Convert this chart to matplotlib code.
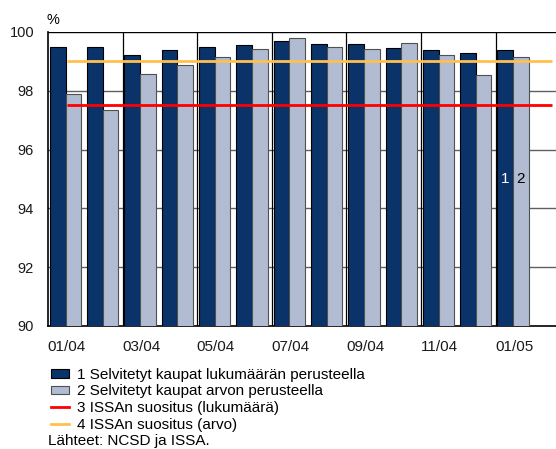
import numpy as np
import matplotlib.pyplot as plt
from matplotlib.patches import Patch
from matplotlib.lines import Line2D

plt.rcParams['font.family'] = ['Liberation Sans', 'DejaVu Sans']

kuukaudet = ["01/04", "02/04", "03/04", "04/04", "05/04", "06/04", "07/04",
             "08/04", "09/04", "10/04", "11/04", "12/04", "01/05"]
lukumaara = [99.47, 99.47, 99.21, 99.40, 99.50, 99.57, 99.68,
             99.59, 99.59, 99.45, 99.37, 99.29, 99.37]
arvo = [97.89, 97.36, 98.58, 98.86, 99.13, 99.41, 99.79,
        99.48, 99.43, 99.63, 99.22, 98.52, 99.13]
issa_lukumaara = 97.5
issa_arvo = 99.0

tumma = '#0a3369'
vaalea = '#b1bcd3'

fig = plt.figure(figsize=(5.56, 4.49), dpi=100)
ax = fig.add_axes([0.0863, 0.274, 0.9137, 0.655])

x = np.arange(len(kuukaudet))
w = 0.42
d = 0.03  # pylväspari hieman vasemmalle
ax.bar(x - w / 2 - d, lukumaara, w, color=tumma, edgecolor='black', linewidth=0.8, zorder=3)
ax.bar(x + w / 2 - d, arvo, w, color=vaalea, edgecolor='#505050', linewidth=0.8, zorder=3)

xl = np.array([0, len(kuukaudet)])
ax.plot(xl, [issa_lukumaara] * 2, color='#ff0000', lw=2, zorder=4, solid_capstyle='butt')
ax.plot(xl, [issa_arvo] * 2, color='#ffc04f', lw=2, zorder=4, solid_capstyle='butt')

# sarjojen numerot viimeisen kuukauden pylväissä
ax.text(x[-1] - w / 2 - d, 95.0, "1", color='white', ha='center', va='center', fontsize=11, zorder=5)
ax.text(x[-1] + w / 2 - d, 95.0, "2", color='black', ha='center', va='center', fontsize=11, zorder=5)

ax.set_xlim(-0.5, 13.12)
ax.set_ylim(90, 100)
ax.set_yticks([90, 92, 94, 96, 98, 100])
ax.set_xticks(x[::2])
ax.set_xticklabels(kuukaudet[::2])
ax.tick_params(length=0, colors='#1a1a1a')
ax.tick_params(axis='y', pad=10, labelsize=10.5)
ax.tick_params(axis='x', pad=10, labelsize=11)

for yy in [92, 94, 96, 98]:
    ax.axhline(yy, color='#606060', lw=1, zorder=1)
ax.axhline(100, color='black', lw=1, zorder=1)
for xx in np.arange(1.5, 12, 2):
    ax.axvline(xx, color='black', lw=0.9, zorder=1)

for s in ['top', 'right']:
    ax.spines[s].set_visible(False)
ax.spines['left'].set_linewidth(1.2)
ax.spines['bottom'].set_linewidth(1.2)

fig.text(0.084, 0.955, "%", fontsize=10.5, va='center', ha='left')

kahvat = [
    Patch(facecolor=tumma, edgecolor='black', linewidth=0.8),
    Patch(facecolor=vaalea, edgecolor='#505050', linewidth=0.8),
    Line2D([], [], color='#ff0000', lw=2),
    Line2D([], [], color='#ffc04f', lw=2),
]
tekstit = ["1 Selvitetyt kaupat lukumäärän perusteella",
           "2 Selvitetyt kaupat arvon perusteella",
           "3 ISSAn suositus (lukumäärä)",
           "4 ISSAn suositus (arvo)"]
fig.legend(kahvat, tekstit, loc='upper left', bbox_to_anchor=(0.092, 0.181),
           frameon=False, fontsize=11, handlelength=1.2, handleheight=0.5,
           handletextpad=0.5, labelspacing=0.18, borderaxespad=0, borderpad=0)
fig.text(0.087, 0.017, "Lähteet: NCSD ja ISSA.", fontsize=11, va='center', ha='left')

fig.savefig('out.png', dpi=100)
